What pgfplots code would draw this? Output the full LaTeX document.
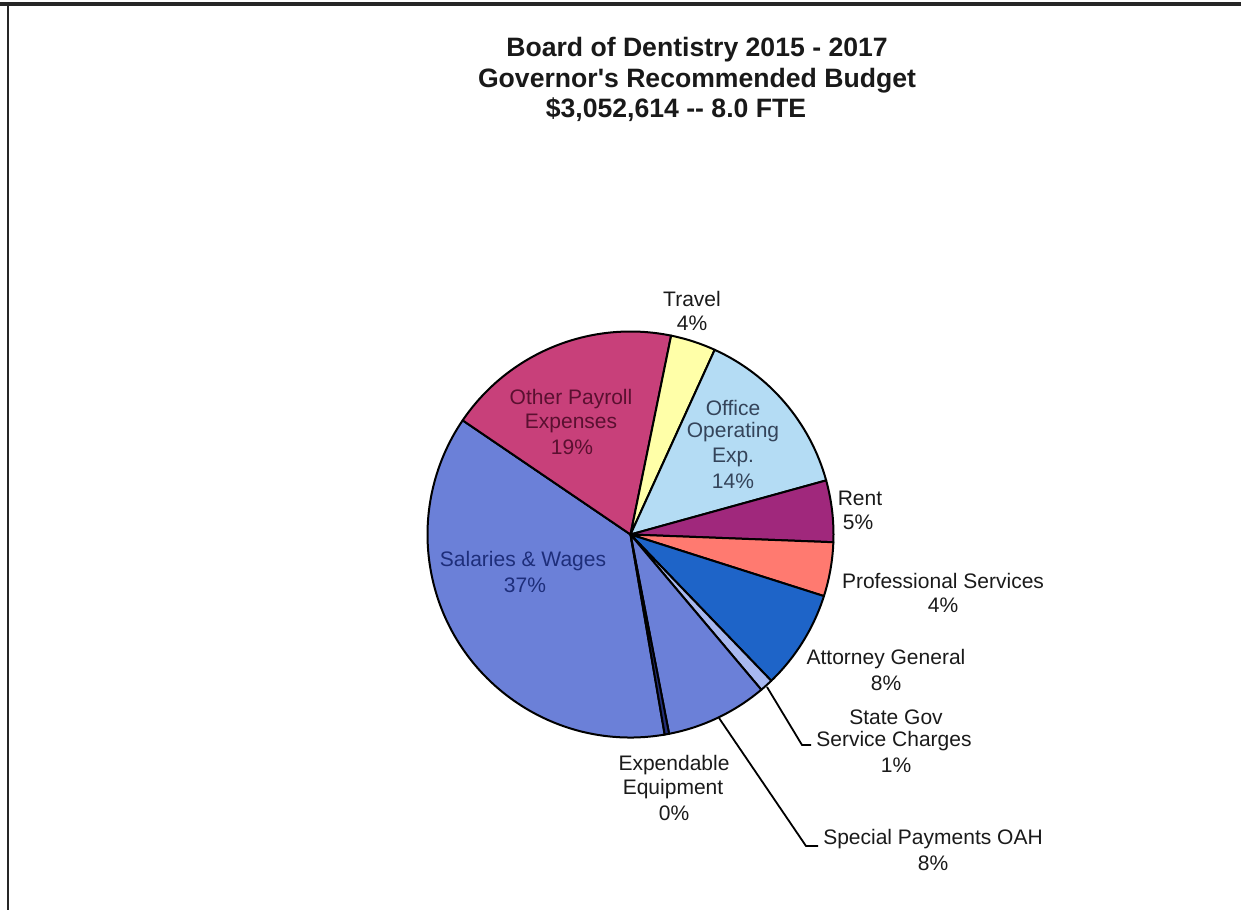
\documentclass[border=0pt]{standalone}
\usepackage{pgfplots}
\pgfplotsset{compat=1.18}
\usepackage{pgfplotstable}
\usepackage{fontspec}
\setmainfont{Liberation Sans}[Ligatures=TeXOff]
\definecolor{cSal}{HTML}{6B80D8}
\definecolor{cOth}{HTML}{C8407A}
\definecolor{cTra}{HTML}{FFFFA8}
\definecolor{cOff}{HTML}{B4DCF4}
\definecolor{cRen}{HTML}{A0287C}
\definecolor{cPro}{HTML}{FF7A70}
\definecolor{cAtt}{HTML}{1E64C8}
\definecolor{cSta}{HTML}{A8B8F0}
\definecolor{cSpe}{HTML}{6B80D8}
\definecolor{cExp}{HTML}{24307A}
\definecolor{tOth}{HTML}{5A1030}
\definecolor{tSal}{HTML}{1E2E7A}
\definecolor{tOff}{HTML}{34445A}
\definecolor{tOut}{HTML}{1A1A1A}

% share of the budget, percent (clockwise, starting at Salaries & Wages)
\pgfplotstableread{
value color
37.2 cSal
18.7 cOth
3.6 cTra
13.9 cOff
4.9 cRen
4.3 cPro
7.9 cAtt
1.05 cSta
8.1 cSpe
0.35 cExp
}\piedata

\newcommand{\lbl}{\fontsize{10.5pt}{12pt}\selectfont}
\newcommand{\ttl}{\fontsize{13.3pt}{15pt}\selectfont\bfseries}

\begin{document}
\begin{tikzpicture}
\useasboundingbox (0,0) rectangle (620.5pt,455pt);
\begin{axis}[
  at={(0,0)}, anchor=south west,
  x=0.5pt, y=0.5pt, y dir=reverse,
  xmin=0, xmax=1241, ymin=0, ymax=910,
  hide axis, clip=false,
]
% frame
\draw[line width=1.6pt, black!85] (axis cs:0,4) -- (axis cs:1241,4);
\draw[line width=1pt, black!85] (axis cs:8,4) -- (axis cs:8,910);

% pie slices
\def\cum{170.3}
\pgfplotsforeachungrouped \i in {0,...,9}{%
  \pgfplotstablegetelem{\i}{value}\of\piedata \let\sliceval\pgfplotsretval
  \pgfplotstablegetelem{\i}{color}\of\piedata \let\slicecol\pgfplotsretval
  \pgfmathsetmacro{\angA}{90-\cum}%
  \pgfmathsetmacro{\angB}{90-\cum-3.6*\sliceval}%
  \edef\temp{\noexpand\filldraw[fill=\slicecol, draw=black, line width=1pt, line join=round]
    (axis cs:630.5,534.5) -- ++(\angA:101.5pt) arc[start angle=\angA, end angle=\angB, radius=101.5pt] -- cycle;}%
  \temp
  \pgfmathsetmacro{\cum}{\cum+3.6*\sliceval}%
}

% leader lines
\draw[line width=0.9pt, black] (axis cs:767,687) -- (axis cs:802,745) -- (axis cs:811,745);
\draw[line width=0.9pt, black] (axis cs:719,718) -- (axis cs:806,846) -- (axis cs:818,846);

% title
\node[font=\ttl, text=black!90] at (axis cs:697,50) {Board of Dentistry 2015 - 2017};
\node[font=\ttl, text=black!90] at (axis cs:697,81) {Governor's Recommended Budget};
\node[font=\ttl, text=black!90] at (axis cs:676,110) {\$3,052,614 {-}{-} 8.0 FTE};

% labels
\node[font=\lbl, text=tOut] at (axis cs:692,299) {Travel};
\node[font=\lbl, text=tOut] at (axis cs:692,323) {4\%};

\node[font=\lbl, text=tOth] at (axis cs:571,399) {Other Payroll};
\node[font=\lbl, text=tOth] at (axis cs:571,423) {Expenses};
\node[font=\lbl, text=tOth] at (axis cs:572,447) {19\%};

\node[font=\lbl, text=tOff] at (axis cs:733,408) {Office};
\node[font=\lbl, text=tOff] at (axis cs:733,432) {Operating};
\node[font=\lbl, text=tOff] at (axis cs:733,457) {Exp.};
\node[font=\lbl, text=tOff] at (axis cs:733,481) {14\%};

\node[font=\lbl, text=tOut] at (axis cs:860,498) {Rent};
\node[font=\lbl, text=tOut] at (axis cs:858,522) {5\%};

\node[font=\lbl, text=tOut] at (axis cs:943,581) {Professional Services};
\node[font=\lbl, text=tOut] at (axis cs:943,605) {4\%};

\node[font=\lbl, text=tOut] at (axis cs:886,659) {Attorney General};
\node[font=\lbl, text=tOut] at (axis cs:886,683) {8\%};

\node[font=\lbl, text=tOut] at (axis cs:896,717) {State Gov};
\node[font=\lbl, text=tOut] at (axis cs:894,741) {Service Charges};
\node[font=\lbl, text=tOut] at (axis cs:896,765) {1\%};

\node[font=\lbl, text=tOut] at (axis cs:933,839) {Special Payments OAH};
\node[font=\lbl, text=tOut] at (axis cs:933,863) {8\%};

\node[font=\lbl, text=tOut] at (axis cs:674,765) {Expendable};
\node[font=\lbl, text=tOut] at (axis cs:673,789) {Equipment};
\node[font=\lbl, text=tOut] at (axis cs:674,813) {0\%};

\node[font=\lbl, text=tSal] at (axis cs:523,561) {Salaries \& Wages};
\node[font=\lbl, text=tSal] at (axis cs:525,585) {37\%};
\end{axis}
\end{tikzpicture}
\end{document}
